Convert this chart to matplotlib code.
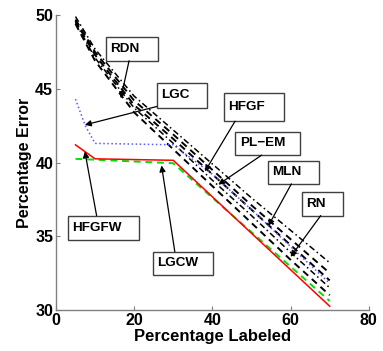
import matplotlib
matplotlib.use("Agg")
import matplotlib.pyplot as plt
from matplotlib.patches import Rectangle

plt.rcParams["font.family"] = ["Liberation Sans", "DejaVu Sans"]
plt.rcParams["font.weight"] = "bold"

# shared x grid for the transductive methods
X_COMMON = [5, 10, 20, 30, 40, 50, 60, 70]

HFGF = [49.9, 47.7, 44.5, 42.2, 39.9, 37.6, 35.4, 33.2]
RDN = [49.7, 47.5, 44.2, 41.9, 39.5, 37.1, 34.8, 32.5]
PLEM = [49.6, 47.3, 43.9, 41.6, 39.2, 36.8, 34.4, 32.0]
MLN = [49.5, 47.1, 43.7, 41.3, 38.8, 36.4, 33.9, 31.5]
RN = [49.4, 46.9, 43.4, 40.9, 38.4, 35.9, 33.4, 31.0]

X_LGC = [5, 7.5, 10, 20, 30, 40, 50, 60, 70]
LGC = [44.3, 42.5, 41.3, 41.25, 41.2, 39.2, 36.8, 34.3, 31.8]

X_HFGFW = [5, 10, 30, 70]
HFGFW = [41.2, 40.25, 40.15, 30.25]

X_LGCW = [5, 30, 70]
LGCW = [40.25, 39.95, 30.6]

# label, box (x0, x1, y0, y1), arrow tail, arrow tip -- all in data units
CALLOUTS = [
    ("RDN", (12.8, 26.1, 46.9, 48.5), (18.7, 46.9), (16.6, 44.35)),
    ("LGC", (25.8, 38.6, 43.7, 45.4), (25.8, 43.8), (7.4, 42.55)),
    ("HFGF", (43.0, 58.4, 42.8, 44.7), (45.8, 42.8), (38.1, 39.4)),
    ("PL\u2212EM", (45.9, 62.4, 40.5, 42.1), (52.6, 40.5), (41.5, 38.5)),
    ("MLN", (54.2, 67.2, 38.55, 40.1), (60.2, 38.55), (54.3, 35.7)),
    ("RN", (62.8, 73.4, 36.4, 38.0), (67.7, 36.4), (60.0, 33.6)),
    ("HFGFW", (3.1, 21.2, 34.75, 36.4), (10.4, 36.4), (7.4, 40.75)),
    ("LGCW", (24.7, 40.2, 32.4, 33.95), (30.4, 33.95), (27.0, 39.8)),
]

fig = plt.figure(figsize=(3.83, 3.51), dpi=100)
ax = fig.add_axes([0.146, 0.117, 0.817, 0.840])

DASH = (0, (3.5, 2.5))
DASHDOT = (0, (4, 2, 1, 2))
ax.plot(X_COMMON, HFGF, color="black", ls=DASHDOT, lw=1.1)
ax.plot(X_COMMON, RDN, color="black", ls=DASH, lw=1.4)
ax.plot(X_COMMON, PLEM, color="black", ls=DASH, lw=1.4)
ax.plot(X_COMMON, MLN, color="black", ls=DASHDOT, lw=1.1)
ax.plot(X_COMMON, RN, color="black", ls=DASH, lw=1.4)
ax.plot(X_LGC, LGC, color="#5a5aff", ls=":", lw=1.1)
ax.plot(X_LGCW, LGCW, color="#00e000", ls=DASH, lw=1.4)
ax.plot(X_HFGFW, HFGFW, color="red", ls="-", lw=1.1)

for label, (x0, x1, y0, y1), tail, tip in CALLOUTS:
    ax.add_patch(Rectangle((x0, y0), x1 - x0, y1 - y0, fc="white",
                           ec="#404040", lw=1.0, clip_on=False, zorder=5))
    ax.text(x0 + 1.1, (y0 + y1) / 2, label, ha="left", va="center",
            fontsize=9.7, fontweight="bold", zorder=6)
    ax.annotate("", xy=tip, xytext=tail, zorder=6,
                arrowprops=dict(arrowstyle="-|>", color="black", lw=0.9,
                                mutation_scale=9, shrinkA=0, shrinkB=0))

ax.set_xlim(0, 80)
ax.set_ylim(30, 50)
ax.set_xticks([0, 20, 40, 60, 80])
ax.set_yticks([30, 35, 40, 45, 50])
for s in ("top", "right"):
    ax.spines[s].set_visible(False)
for s in ("left", "bottom"):
    ax.spines[s].set_color("#808080")
    ax.spines[s].set_linewidth(1.0)
ax.tick_params(direction="in", length=3, color="#808080", labelsize=11.5,
               pad=2)
for t in ax.get_xticklabels() + ax.get_yticklabels():
    t.set_fontweight("bold")
ax.set_xlabel("Percentage Labeled", fontsize=12, fontweight="bold", labelpad=1)
ax.set_ylabel("Percentage Error", fontsize=11.5, fontweight="bold", labelpad=2)

fig.savefig("out.png", dpi=100)
